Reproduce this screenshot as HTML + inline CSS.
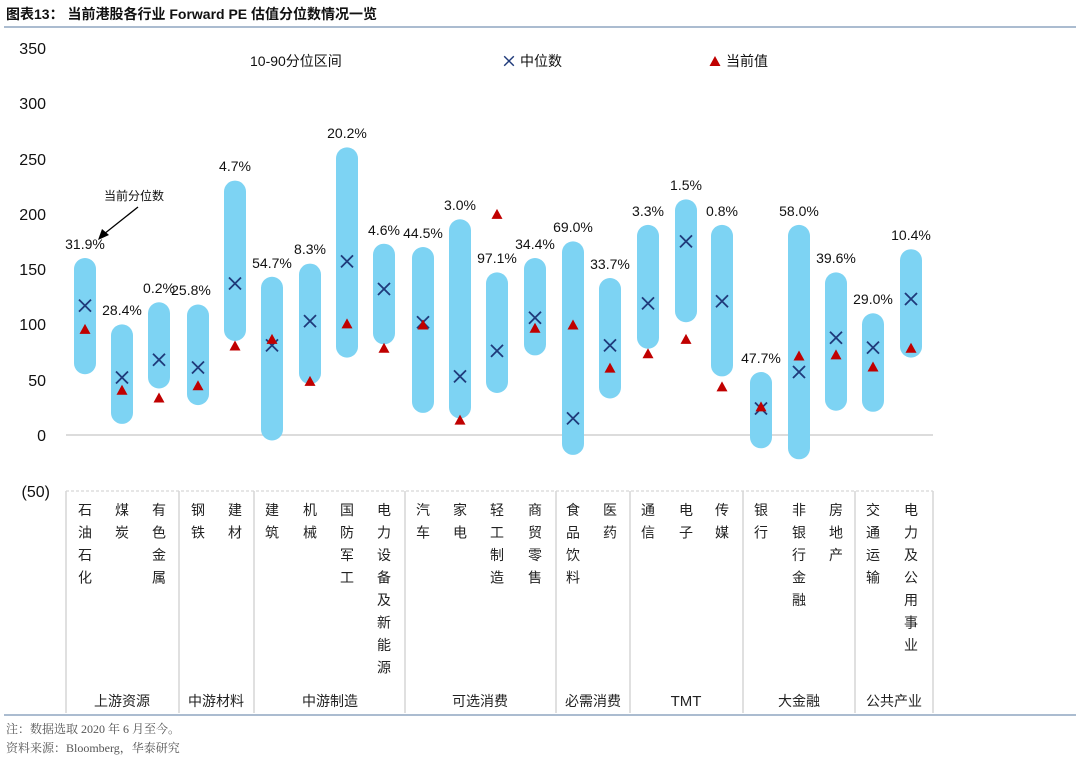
<!DOCTYPE html>
<html><head><meta charset="utf-8"><style>
body{margin:0;background:#fff;width:1080px;height:759px;overflow:hidden}
svg text{font-family:"Liberation Sans","Noto Sans CJK SC",sans-serif}
.cj{font-family:"Liberation Serif","Noto Serif CJK SC",serif;font-size:14px;fill:#222}
.b{fill:#7dd3f3}
.m{stroke:#1f3a7a;stroke-width:1.8;fill:none}
.p{fill:#c00000}
.l{font-size:14px;fill:#111;text-anchor:middle}
</style></head><body>
<svg width="1080" height="759" xmlns="http://www.w3.org/2000/svg">
<defs>
<path id="mx" class="m" d="M-6 -6L6 6M6 -6L-6 6"/>
<polygon id="tr" class="p" points="0,-6 5.5,4 -5.5,4"/>
</defs>
<text x="6" y="19" font-size="14" font-weight="bold" fill="#111">图表13：  当前港股各行业 Forward PE 估值分位数情况一览</text>
<line x1="4" y1="27" x2="1076" y2="27" stroke="#8fa6c0" stroke-width="1.5"/>
<g font-size="16" fill="#111" text-anchor="end">
<text x="46" y="54">350</text><text x="46" y="109">300</text><text x="46" y="165">250</text>
<text x="46" y="220">200</text><text x="46" y="275">150</text><text x="46" y="330">100</text>
<text x="46" y="386">50</text><text x="46" y="441">0</text><text x="50" y="497">(50)</text>
</g>
<line x1="66" y1="435" x2="933" y2="435" stroke="#d0d0d0" stroke-width="1.5"/>
<line x1="66" y1="491" x2="933" y2="491" stroke="#ccc" stroke-dasharray="3,2"/>
<g stroke="#d6d6d6" stroke-width="1.5">
<line x1="66" y1="491" x2="66" y2="713"/><line x1="179" y1="491" x2="179" y2="713"/>
<line x1="254" y1="491" x2="254" y2="713"/><line x1="405" y1="491" x2="405" y2="713"/>
<line x1="556" y1="491" x2="556" y2="713"/><line x1="630" y1="491" x2="630" y2="713"/>
<line x1="743" y1="491" x2="743" y2="713"/><line x1="855" y1="491" x2="855" y2="713"/>
<line x1="933" y1="491" x2="933" y2="713"/>
</g>
<line x1="4" y1="715" x2="1076" y2="715" stroke="#8fa6c0" stroke-width="1.5"/>
<text x="250" y="66" font-size="14" fill="#111">10-90分位区间</text>
<use href="#mx" transform="translate(509,61) scale(0.8)"/><text x="520" y="66" font-size="14" fill="#111">中位数</text>
<use href="#tr" transform="translate(715,62)"/><text x="726" y="66" font-size="14" fill="#111">当前值</text>
<text x="104" y="200" font-size="12" fill="#111">当前分位数</text>
<line x1="138" y1="207" x2="104" y2="234" stroke="#000" stroke-width="1.3"/>
<polygon points="98,240 102,229 109,235" fill="#000"/>

<g>
<rect class="b" x="74" y="258" width="22" height="116.2" rx="11"/>
<rect class="b" x="111" y="324.4" width="22" height="99.5" rx="11"/>
<rect class="b" x="148" y="302.3" width="22" height="86.2" rx="11"/>
<rect class="b" x="187" y="304.5" width="22" height="100.6" rx="11"/>
<rect class="b" x="224" y="180.6" width="22" height="160.4" rx="11"/>
<rect class="b" x="261" y="276.8" width="22" height="163.7" rx="11"/>
<rect class="b" x="299" y="263.6" width="22" height="120.5" rx="11"/>
<rect class="b" x="336" y="147.4" width="22" height="210.2" rx="11"/>
<rect class="b" x="373" y="243.7" width="22" height="100.6" rx="11"/>
<rect class="b" x="412" y="247" width="22" height="165.9" rx="11"/>
<rect class="b" x="449" y="219.3" width="22" height="199.1" rx="11"/>
<rect class="b" x="486" y="272.4" width="22" height="120.6" rx="11"/>
<rect class="b" x="524" y="258" width="22" height="97.4" rx="11"/>
<rect class="b" x="562" y="241.4" width="22" height="213.5" rx="11"/>
<rect class="b" x="599" y="278" width="22" height="120.5" rx="11"/>
<rect class="b" x="637" y="224.9" width="22" height="123.8" rx="11"/>
<rect class="b" x="675" y="199.4" width="22" height="122.8" rx="11"/>
<rect class="b" x="711" y="224.9" width="22" height="151.5" rx="11"/>
<rect class="b" x="750" y="372" width="22" height="76.3" rx="11"/>
<rect class="b" x="788" y="224.9" width="22" height="234.4" rx="11"/>
<rect class="b" x="825" y="272.4" width="22" height="138.3" rx="11"/>
<rect class="b" x="862" y="313.3" width="22" height="98.5" rx="11"/>
<rect class="b" x="900" y="249.2" width="22" height="108.4" rx="11"/>
</g>
<g>
<use href="#mx" x="85" y="305.6"/><use href="#mx" x="122" y="377.5"/><use href="#mx" x="159" y="359.8"/>
<use href="#mx" x="198" y="367.5"/><use href="#mx" x="235" y="283.5"/><use href="#mx" x="272" y="345.4"/>
<use href="#mx" x="310" y="321.1"/><use href="#mx" x="347" y="261.4"/><use href="#mx" x="384" y="289"/>
<use href="#mx" x="423" y="322.2"/><use href="#mx" x="460" y="376.4"/><use href="#mx" x="497" y="350.9"/>
<use href="#mx" x="535" y="317.8"/><use href="#mx" x="573" y="418.4"/><use href="#mx" x="610" y="345.4"/>
<use href="#mx" x="648" y="303.4"/><use href="#mx" x="686" y="241.4"/><use href="#mx" x="722" y="301.2"/>
<use href="#mx" x="761" y="408.5"/><use href="#mx" x="799" y="372"/><use href="#mx" x="836" y="337.7"/>
<use href="#mx" x="873" y="347.6"/><use href="#mx" x="911" y="299"/>
</g>
<g>
<use href="#tr" x="85" y="329.9"/><use href="#tr" x="122" y="390.8"/><use href="#tr" x="159" y="398.5"/>
<use href="#tr" x="198" y="386.3"/><use href="#tr" x="235" y="346.5"/><use href="#tr" x="272" y="339.9"/>
<use href="#tr" x="310" y="381.9"/><use href="#tr" x="347" y="324.4"/><use href="#tr" x="384" y="348.7"/>
<use href="#tr" x="423" y="325.5"/><use href="#tr" x="460" y="420.6"/><use href="#tr" x="497" y="214.9"/>
<use href="#tr" x="535" y="328.8"/><use href="#tr" x="573" y="325.5"/><use href="#tr" x="610" y="368.6"/>
<use href="#tr" x="648" y="354.3"/><use href="#tr" x="686" y="339.9"/><use href="#tr" x="722" y="387.4"/>
<use href="#tr" x="761" y="407.4"/><use href="#tr" x="799" y="356.5"/><use href="#tr" x="836" y="355.4"/>
<use href="#tr" x="873" y="367.5"/><use href="#tr" x="911" y="348.7"/>
</g>
<g>
<text class="l" x="85" y="249">31.9%</text><text class="l" x="122" y="315">28.4%</text><text class="l" x="159" y="293">0.2%</text>
<text class="l" x="191" y="295">25.8%</text><text class="l" x="235" y="171">4.7%</text><text class="l" x="272" y="268">54.7%</text>
<text class="l" x="310" y="254">8.3%</text><text class="l" x="347" y="138">20.2%</text><text class="l" x="384" y="235">4.6%</text>
<text class="l" x="423" y="238">44.5%</text><text class="l" x="460" y="210">3.0%</text><text class="l" x="497" y="263">97.1%</text>
<text class="l" x="535" y="249">34.4%</text><text class="l" x="573" y="232">69.0%</text><text class="l" x="610" y="269">33.7%</text>
<text class="l" x="648" y="216">3.3%</text><text class="l" x="686" y="190">1.5%</text><text class="l" x="722" y="216">0.8%</text>
<text class="l" x="761" y="363">47.7%</text><text class="l" x="799" y="216">58.0%</text><text class="l" x="836" y="263">39.6%</text>
<text class="l" x="873" y="304">29.0%</text><text class="l" x="911" y="240">10.4%</text>
</g>
<g class="cj" text-anchor="middle">
<text x="85" y="515">石<tspan x="85" dy="22.5">油</tspan><tspan x="85" dy="22.5">石</tspan><tspan x="85" dy="22.5">化</tspan></text>
<text x="122" y="515">煤<tspan x="122" dy="22.5">炭</tspan></text>
<text x="159" y="515">有<tspan x="159" dy="22.5">色</tspan><tspan x="159" dy="22.5">金</tspan><tspan x="159" dy="22.5">属</tspan></text>
<text x="198" y="515">钢<tspan x="198" dy="22.5">铁</tspan></text>
<text x="235" y="515">建<tspan x="235" dy="22.5">材</tspan></text>
<text x="272" y="515">建<tspan x="272" dy="22.5">筑</tspan></text>
<text x="310" y="515">机<tspan x="310" dy="22.5">械</tspan></text>
<text x="347" y="515">国<tspan x="347" dy="22.5">防</tspan><tspan x="347" dy="22.5">军</tspan><tspan x="347" dy="22.5">工</tspan></text>
<text x="384" y="515">电<tspan x="384" dy="22.5">力</tspan><tspan x="384" dy="22.5">设</tspan><tspan x="384" dy="22.5">备</tspan><tspan x="384" dy="22.5">及</tspan><tspan x="384" dy="22.5">新</tspan><tspan x="384" dy="22.5">能</tspan><tspan x="384" dy="22.5">源</tspan></text>
<text x="423" y="515">汽<tspan x="423" dy="22.5">车</tspan></text>
<text x="460" y="515">家<tspan x="460" dy="22.5">电</tspan></text>
<text x="497" y="515">轻<tspan x="497" dy="22.5">工</tspan><tspan x="497" dy="22.5">制</tspan><tspan x="497" dy="22.5">造</tspan></text>
<text x="535" y="515">商<tspan x="535" dy="22.5">贸</tspan><tspan x="535" dy="22.5">零</tspan><tspan x="535" dy="22.5">售</tspan></text>
<text x="573" y="515">食<tspan x="573" dy="22.5">品</tspan><tspan x="573" dy="22.5">饮</tspan><tspan x="573" dy="22.5">料</tspan></text>
<text x="610" y="515">医<tspan x="610" dy="22.5">药</tspan></text>
<text x="648" y="515">通<tspan x="648" dy="22.5">信</tspan></text>
<text x="686" y="515">电<tspan x="686" dy="22.5">子</tspan></text>
<text x="722" y="515">传<tspan x="722" dy="22.5">媒</tspan></text>
<text x="761" y="515">银<tspan x="761" dy="22.5">行</tspan></text>
<text x="799" y="515">非<tspan x="799" dy="22.5">银</tspan><tspan x="799" dy="22.5">行</tspan><tspan x="799" dy="22.5">金</tspan><tspan x="799" dy="22.5">融</tspan></text>
<text x="836" y="515">房<tspan x="836" dy="22.5">地</tspan><tspan x="836" dy="22.5">产</tspan></text>
<text x="873" y="515">交<tspan x="873" dy="22.5">通</tspan><tspan x="873" dy="22.5">运</tspan><tspan x="873" dy="22.5">输</tspan></text>
<text x="911" y="515">电<tspan x="911" dy="22.5">力</tspan><tspan x="911" dy="22.5">及</tspan><tspan x="911" dy="22.5">公</tspan><tspan x="911" dy="22.5">用</tspan><tspan x="911" dy="22.5">事</tspan><tspan x="911" dy="22.5">业</tspan></text>
</g>
<g class="cj" text-anchor="middle">
<text x="122" y="706">上游资源</text><text x="216" y="706">中游材料</text><text x="330" y="706">中游制造</text>
<text x="480" y="706">可选消费</text><text x="593" y="706">必需消费</text>
<text x="686" y="706" style="font-family:'Liberation Sans',sans-serif;font-size:15px">TMT</text>
<text x="799" y="706">大金融</text><text x="894" y="706">公共产业</text>
</g>
<text x="6" y="733" class="cj" style="font-size:12px;fill:#555">注：数据选取 2020 年 6 月至今。</text>
<text x="6" y="752" class="cj" style="font-size:12px;fill:#555">资料来源：Bloomberg，华泰研究</text>
</svg>
</body></html>
